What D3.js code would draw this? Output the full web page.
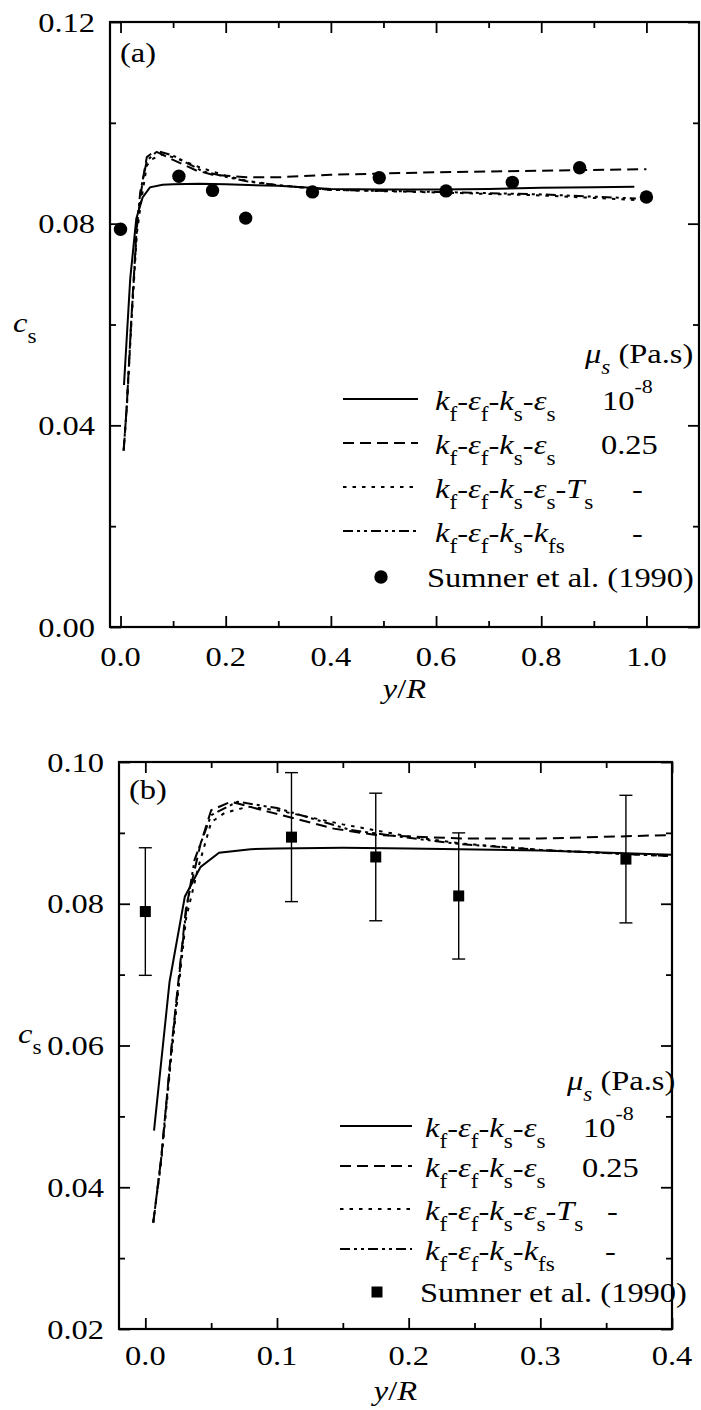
<!DOCTYPE html>
<html><head><meta charset="utf-8">
<script src="https://cdn.jsdelivr.net/npm/d3@7/dist/d3.min.js"></script>
<style>body{margin:0;background:#fff}svg{display:block}text{font-family:"Liberation Serif","Times New Roman",serif;fill:#000}</style>
</head><body>
<svg id="c" width="701" height="1410"></svg>
<script>
// ---------- data ----------
const solidX = [0.0066, 0.0184, 0.030, 0.042, 0.056, 0.08, 0.10, 0.15, 0.20, 0.30, 0.40, 0.50, 0.60, 0.70, 0.80, 0.90, 0.977];
const solidY = [0.048, 0.069, 0.081, 0.0852, 0.0872, 0.0877, 0.0878, 0.0879, 0.0878, 0.0875, 0.0869, 0.0868, 0.0868, 0.0869, 0.0871, 0.0872, 0.0873];
const dashX = [0.006, 0.012, 0.020, 0.031, 0.042, 0.050, 0.065, 0.093, 0.143, 0.175, 0.24, 0.30, 0.40, 0.60, 0.80, 1.0];
const dashY = [0.035, 0.044, 0.060, 0.0796, 0.0885, 0.0932, 0.0944, 0.093, 0.0906, 0.0897, 0.0892, 0.0892, 0.0897, 0.0902, 0.0905, 0.0908];
const dotX = [0.006, 0.012, 0.020, 0.031, 0.040, 0.050, 0.060, 0.078, 0.10, 0.15, 0.20, 0.24, 0.30, 0.40, 0.60, 0.80, 0.98];
const dotY = [0.035, 0.0435, 0.059, 0.078, 0.085, 0.0915, 0.0928, 0.0937, 0.0932, 0.0912, 0.0895, 0.0885, 0.0876, 0.0867, 0.0862, 0.0856, 0.0847];
const dashDotX = [0.006, 0.012, 0.020, 0.031, 0.0374, 0.050, 0.070, 0.10, 0.156, 0.20, 0.24, 0.30, 0.40, 0.60, 0.80, 0.98];
const dashDotY = [0.035, 0.044, 0.0598, 0.079, 0.0862, 0.0925, 0.0944, 0.0935, 0.0904, 0.0893, 0.0884, 0.0876, 0.0867, 0.0863, 0.0858, 0.085];
const expX = [0, 0.111, 0.175, 0.238, 0.365, 0.492, 0.619, 0.745, 0.873, 1.0];
const expY = [0.0789, 0.0894, 0.0866, 0.0811, 0.0863, 0.0891, 0.0865, 0.0882, 0.0911, 0.0853];
const expErr = [0.009, 0.0091, 0.009, 0.0089, 0.009, null, null, null, null, null];
const ticksA_X = [0, 0.2, 0.4, 0.6, 0.8, 1.0];
const minorA_X = [0.1, 0.3, 0.5, 0.7, 0.9];
const ticksA_Y = [0, 0.04, 0.08, 0.12];
const minorA_Y = [0.02, 0.06, 0.10];
const ticksB_X = [0, 0.1, 0.2, 0.3, 0.4];
const minorB_X = [0.05, 0.15, 0.25, 0.35];
const ticksB_Y = [0.02, 0.04, 0.06, 0.08, 0.10];
const minorB_Y = [0.03, 0.05, 0.07, 0.09];
const seriesNames = [
  [["k","i"],["f","sub"],["-",""],["ε","i"],["f","sub"],["-",""],["k","i"],["s","sub"],["-",""],["ε","i"],["s","sub"]],
  [["k","i"],["f","sub"],["-",""],["ε","i"],["f","sub"],["-",""],["k","i"],["s","sub"],["-",""],["ε","i"],["s","sub"]],
  [["k","i"],["f","sub"],["-",""],["ε","i"],["f","sub"],["-",""],["k","i"],["s","sub"],["-",""],["ε","i"],["s","sub"],["-",""],["T","i"],["s","sub"]],
  [["k","i"],["f","sub"],["-",""],["ε","i"],["f","sub"],["-",""],["k","i"],["s","sub"],["-",""],["k","i"],["fs","sub"]]
];
const muValues = [[["10",""],["-8","sup"]], [["0.25",""]], [["-",""]], [["-",""]]];
const expName = "Sumner et al. (1990)";

// ---------- drawing ----------
const SX = 1.16, FS = 28;
const svg = d3.select("#c");
const series = [
  {x: solidX, y: solidY, dash: null},
  {x: dashX, y: dashY, dash: "11,6"},
  {x: dotX, y: dotY, dash: "3.5,6"},
  {x: dashDotX, y: dashDotY, dash: "10,4,3,4,3,4"}
];

function stext(g, x, y, anchor, size) {
  return g.append("text").attr("transform", `translate(${x},${y}) scale(${SX},1)`)
    .attr("text-anchor", anchor || "start").attr("font-size", size || FS);
}
function rich(t, parts) {
  let shift = 0;
  parts.forEach(([s, k]) => {
    const ts = t.append("tspan").text(s);
    let target = 0;
    if (k === "i") ts.attr("font-style", "italic");
    if (k === "sub") { ts.attr("font-size", 20); target = 11; }
    if (k === "subi") { ts.attr("font-size", 20).attr("font-style","italic"); target = 11; }
    if (k === "sup") { ts.attr("font-size", 19); target = -17; }
    if (target !== shift) { ts.attr("dy", target - shift); shift = target; }
  });
}

function panel(cfg) {
  const g = svg.append("g");
  const x = d3.scaleLinear().domain(cfg.xd).range([cfg.L, cfg.R]);
  const y = d3.scaleLinear().domain(cfg.yd).range([cfg.B, cfg.T]);
  const id = "clip" + cfg.name;
  svg.append("clipPath").attr("id", id).append("rect")
    .attr("x", cfg.L).attr("y", cfg.T).attr("width", cfg.R - cfg.L).attr("height", cfg.B - cfg.T);

  const mk = (axisFn, scale, vals, size) => axisFn(scale).tickValues(vals).tickSize(size).tickFormat("");
  const axes = [
    [d3.axisBottom, x, cfg.xt, `translate(0,${cfg.B})`, -11],
    [d3.axisBottom, x, cfg.xm, `translate(0,${cfg.B})`, -6],
    [d3.axisTop, x, cfg.xt, `translate(0,${cfg.T})`, -11],
    [d3.axisTop, x, cfg.xm, `translate(0,${cfg.T})`, -6],
    [d3.axisLeft, y, cfg.yt, `translate(${cfg.L},0)`, -11],
    [d3.axisLeft, y, cfg.ym, `translate(${cfg.L},0)`, -6],
    [d3.axisRight, y, cfg.yt, `translate(${cfg.R},0)`, -11],
    [d3.axisRight, y, cfg.ym, `translate(${cfg.R},0)`, -6]
  ];
  axes.forEach(([fn, sc, vals, tr, sz]) => {
    const a = g.append("g").attr("transform", tr).call(mk(fn, sc, vals, sz));
    a.select(".domain").remove();
    a.selectAll("line").attr("stroke", "#000").attr("stroke-width", 1.8);
  });
  cfg.xt.forEach(v => stext(g, x(v), cfg.xlabY, "middle").text(d3.format(cfg.xf)(v)));
  cfg.yt.forEach(v => stext(g, cfg.L - 15, y(v) + 9.5, "end").text(d3.format(cfg.yf)(v)));
  g.append("rect").attr("x", cfg.L).attr("y", cfg.T).attr("width", cfg.R - cfg.L).attr("height", cfg.B - cfg.T)
    .attr("fill", "none").attr("stroke", "#000").attr("stroke-width", 2.2);

  const line = d3.line().x(d => x(d[0])).y(d => y(d[1]));
  const cg = g.append("g").attr("clip-path", `url(#${id})`);
  series.forEach(s => {
    const pts = s.x.map((v, i) => [v, s.y[i]]);
    cg.append("path").attr("d", line(pts)).attr("fill", "none").attr("stroke", "#000")
      .attr("stroke-width", 2).attr("stroke-dasharray", s.dash);
  });
  const exp = expX.map((v, i) => ({x: v, y: expY[i], e: expErr[i]})).filter(d => d.x <= cfg.xd[1]);
  if (cfg.err) {
    exp.forEach(d => {
      if (d.e == null) return;
      const px = x(d.x), y1 = y(d.y - d.e), y2 = y(d.y + d.e);
      cg.append("line").attr("x1", px).attr("x2", px).attr("y1", y1).attr("y2", y2).attr("stroke", "#000").attr("stroke-width", 1.4);
      [y1, y2].forEach(yy => cg.append("line").attr("x1", px - 6.5).attr("x2", px + 6.5).attr("y1", yy).attr("y2", yy).attr("stroke", "#000").attr("stroke-width", 1.4));
    });
  }
  exp.forEach(d => {
    if (cfg.marker === "circle") cg.append("circle").attr("cx", x(d.x)).attr("cy", y(d.y)).attr("r", 6.7);
    else cg.append("rect").attr("x", x(d.x) - 5.5).attr("y", y(d.y) - 5.5).attr("width", 11).attr("height", 11);
  });

  stext(g, cfg.L + 10, cfg.T + cfg.letterDy).text(cfg.letter);
  rich(stext(g, (cfg.L + cfg.R) / 2, cfg.xtitleY, "middle"), [["y","i"],["/",""],["R","i"]]);
  rich(stext(g, cfg.csX, cfg.csY), [["c","i"],["s","sub"]]);

  const Lg = cfg.leg;
  rich(stext(g, Lg.muX, Lg.muY), [["μ","i"],["s","subi"],[" (Pa.s)",""]]);
  series.forEach((s, i) => {
    const ly = Lg.rows[i];
    g.append("line").attr("x1", Lg.lx1).attr("x2", Lg.lx2).attr("y1", ly).attr("y2", ly)
      .attr("stroke", "#000").attr("stroke-width", 2).attr("stroke-dasharray", s.dash);
    rich(stext(g, Lg.tx, ly + 11), seriesNames[i]);
    rich(stext(g, Lg.vx[i], ly + 11), muValues[i]);
  });
  if (cfg.marker === "circle") g.append("circle").attr("cx", Lg.mx).attr("cy", Lg.my).attr("r", 6.7);
  else g.append("rect").attr("x", Lg.mx - 5.5).attr("y", Lg.my - 5.5).attr("width", 11).attr("height", 11);
  stext(g, Lg.ex, Lg.my + 10).text(expName);
}

panel({
  name: "a", xd: [-0.02, 1.1], yd: [0, 0.12], L: 110, R: 699, T: 22, B: 627,
  xt: ticksA_X, xm: minorA_X, yt: ticksA_Y, ym: minorA_Y, xf: ".1f", yf: ".2f",
  xlabY: 666, xtitleY: 698, csX: 13, csY: 332, letter: "(a)", letterDy: 40,
  marker: "circle", err: false,
  leg: {muX: 585, muY: 363, rows: [399, 443, 487, 531], lx1: 343, lx2: 418, tx: 435,
        vx: [602, 601, 632, 632], mx: 381, my: 577, ex: 427}
});
panel({
  name: "b", xd: [-0.02, 0.4], yd: [0.02, 0.10], L: 119, R: 672, T: 762, B: 1329,
  xt: ticksB_X, xm: minorB_X, yt: ticksB_Y, ym: minorB_Y, xf: ".1f", yf: ".2f",
  xlabY: 1365, xtitleY: 1400, csX: 18, csY: 1043, letter: "(b)", letterDy: 37,
  marker: "square", err: true,
  leg: {muX: 567, muY: 1090, rows: [1126, 1166, 1209, 1249], lx1: 340, lx2: 412, tx: 425,
        vx: [583, 582, 607, 605], mx: 377, my: 1292, ex: 420}
});
</script>
</body></html>
